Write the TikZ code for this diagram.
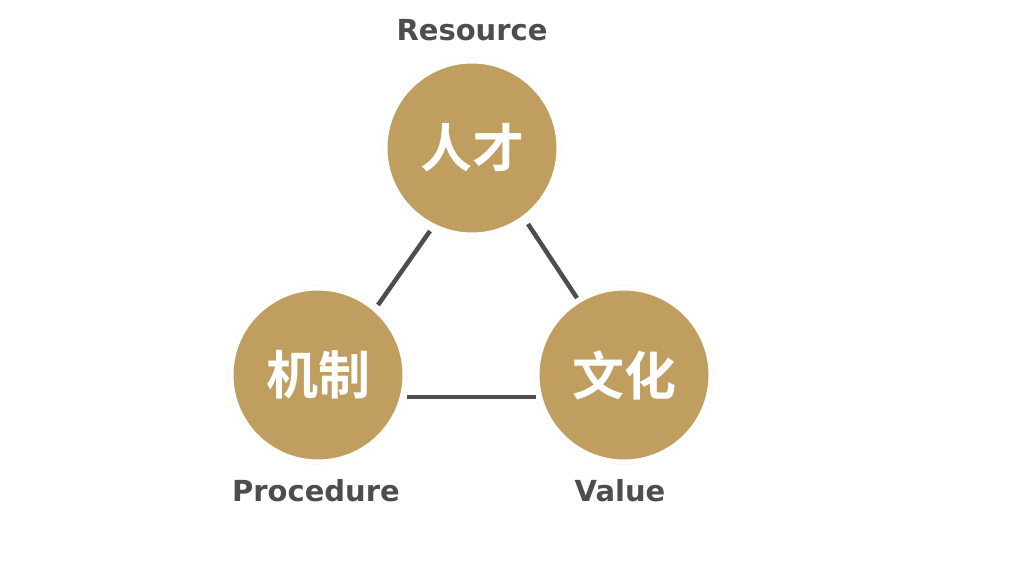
\documentclass[tikz,border=0pt]{standalone}
\usepackage{fontspec}
\setmainfont{DejaVu Sans}
\newfontfamily\cjk{Noto Sans CJK SC}[BoldFont={Noto Sans CJK SC Bold}]
\usetikzlibrary{shadows}
\definecolor{gold}{HTML}{C09E60}
\definecolor{ink}{HTML}{4D4D4D}
\begin{document}
\begin{tikzpicture}[x=1pt,y=-1pt,
  pillar/.style={circle,fill=gold,draw=white,line width=5pt,minimum size=174pt,
    inner sep=0pt,text=white,font=\cjk\bfseries\fontsize{52}{52}\selectfont,
    drop shadow={shadow xshift=0pt,shadow yshift=0pt,opacity=0.15,shadow scale=1.03}},
  tag/.style={text=ink,font=\bfseries\fontsize{29}{29}\selectfont},
  link/.style={draw=ink,line width=4.5pt}]
\useasboundingbox (0,0) rectangle (1014,580);
\node[pillar] (rc) at (472,148) {人才};
\node[pillar] (pc) at (318,375) {机制};
\node[pillar] (vc) at (624,375) {文化};
\node[tag] (rl) at (472,30) {Resource};
\node[tag] (pl) at (316,491) {Procedure};
\node[tag] (vl) at (620,491) {Value};
\coordinate (a1) at (378,305); \coordinate (a2) at (430,231);
\coordinate (b1) at (528,224); \coordinate (b2) at (577,298);
\coordinate (c1) at (407,397); \coordinate (c2) at (536,397);
\draw[link] (a1) -- (a2);
\draw[link] (b1) -- (b2);
\draw[link] (c1) -- (c2);
\end{tikzpicture}
\end{document}
